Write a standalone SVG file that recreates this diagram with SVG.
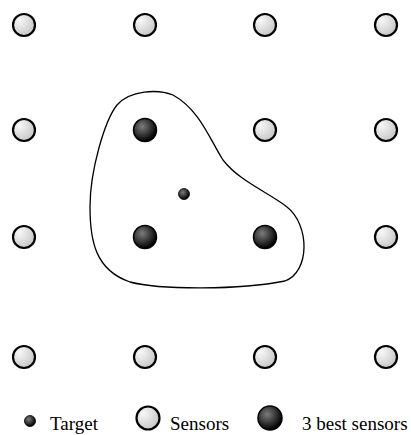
<svg xmlns="http://www.w3.org/2000/svg" width="411" height="435" viewBox="0 0 411 435">
<defs>
<radialGradient id="gl" cx="0.3" cy="0.3" r="0.8">
<stop offset="0" stop-color="#f7f7f7"/>
<stop offset="1" stop-color="#c4c4c4"/>
</radialGradient>
<radialGradient id="gd" cx="0.38" cy="0.35" r="0.65">
<stop offset="0" stop-color="#7c7c7c"/>
<stop offset="1" stop-color="#000000"/>
</radialGradient>
</defs>
<style>
.s{fill:url(#gl);stroke:#000;stroke-width:2.2}
.b{fill:url(#gd);stroke:#000;stroke-width:1.5}
.t{fill:url(#gd);stroke:#000;stroke-width:0.8}
.lbl{font-family:"Liberation Serif","Times New Roman",serif;font-size:19px;fill:#000}
.blob{fill:none;stroke:#000;stroke-width:1.3}
</style>
<g id="region"><path class="blob" d="M 173,95 C 158,89 130,90 117,105 C 105,120 90,170 90,207 C 90,240 95,270 130,282 C 160,290 240,290 285,281 C 310,272 310,225 287,207 C 270,193 240,182 223,160 C 210,140 200,110 173,95 Z"/></g>
<g id="connectors"></g>
<g id="s11"><circle class="s" cx="24" cy="25" r="11"/></g>
<g id="s12"><circle class="s" cx="145" cy="25" r="11"/></g>
<g id="s13"><circle class="s" cx="265" cy="25" r="11"/></g>
<g id="s14"><circle class="s" cx="386" cy="25" r="11"/></g>
<g id="s21"><circle class="s" cx="24" cy="130" r="11"/></g>
<g id="s22"><circle class="b" cx="145" cy="130" r="11.5"/></g>
<g id="s23"><circle class="s" cx="265" cy="130" r="11"/></g>
<g id="s24"><circle class="s" cx="386" cy="130" r="11"/></g>
<g id="s31"><circle class="s" cx="24" cy="237" r="11"/></g>
<g id="s32"><circle class="b" cx="145" cy="237" r="11.5"/></g>
<g id="s33"><circle class="b" cx="265" cy="237" r="11.5"/></g>
<g id="s34"><circle class="s" cx="386" cy="237" r="11"/></g>
<g id="s41"><circle class="s" cx="24" cy="357" r="11"/></g>
<g id="s42"><circle class="s" cx="145" cy="357" r="11"/></g>
<g id="s43"><circle class="s" cx="265" cy="357" r="11"/></g>
<g id="s44"><circle class="s" cx="386" cy="357" r="11"/></g>
<g id="target"><circle class="t" cx="184" cy="194" r="5.5"/></g>
<g id="legend">
<circle class="t" cx="30" cy="421" r="5.5"/>
<text class="lbl" x="50" y="430">Target</text>
<circle class="s" cx="148" cy="418" r="11.5"/>
<text class="lbl" x="170" y="430">Sensors</text>
<circle class="b" cx="270" cy="418" r="12"/>
<text class="lbl" x="302" y="430">3 best sensors</text>
</g>
</svg>
